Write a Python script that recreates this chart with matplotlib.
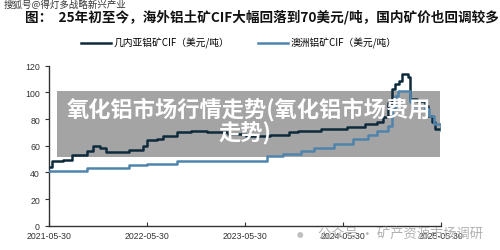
import numpy as np
import pandas as pd
import matplotlib
matplotlib.use("Agg")
import matplotlib.pyplot as plt
from matplotlib.patches import Rectangle

plt.rcParams['font.family'] = ['Liberation Sans', 'Noto Sans CJK SC', 'DejaVu Sans']
cjk = ['Noto Sans CJK SC', 'DejaVu Sans']

# Guinea bauxite CIF (USD/t), step values
guinea_dates = ["2021-05-30", "2021-06-10", "2021-07-20", "2021-08-25", "2021-10-20",
                "2021-11-10", "2021-12-05", "2021-12-30", "2022-03-25", "2022-05-15",
                "2022-05-30", "2022-07-05", "2022-07-30", "2022-09-20", "2022-11-10",
                "2023-01-10", "2023-03-30", "2023-06-05", "2023-08-30", "2023-11-10",
                "2023-12-15", "2024-03-10", "2024-06-15", "2024-08-20", "2024-10-05",
                "2024-10-25", "2024-11-12", "2024-11-30", "2024-12-10", "2024-12-25",
                "2025-01-05", "2025-01-28", "2025-02-02", "2025-03-01", "2025-03-30",
                "2025-04-12", "2025-04-28", "2025-05-08", "2025-05-30"]
guinea_vals = [43.8, 48.3, 49.5, 53.3, 56,
               59.5, 58.5, 55, 57, 60,
               64, 65, 67.5, 70.5, 71.3,
               70, 68.8, 67, 68, 70,
               71, 72.5, 74, 76, 78,
               81.5, 92, 102.5, 106, 108.8,
               113.8, 111.5, 95, 93.8, 90,
               82.5, 77.8, 72.5, 73]

# Australia bauxite CIF (USD/t)
aus_dates = ["2021-05-30", "2021-10-20", "2022-03-25", "2022-05-30", "2022-09-20",
             "2023-08-20", "2023-10-20", "2023-12-25", "2024-02-10", "2024-04-25",
             "2024-07-05", "2024-09-01", "2024-10-05", "2024-11-12", "2024-11-30",
             "2024-12-10", "2024-12-20", "2025-02-05", "2025-02-12", "2025-03-30",
             "2025-04-15", "2025-05-05", "2025-05-30"]
aus_vals = [40.8, 43.3, 45.5, 46.5, 48.3,
            52.5, 54, 56, 58.5, 61.3,
            65, 68, 71, 75, 88,
            97, 101, 93, 90, 87.5,
            82, 76, 72]

xtick_dates = ["2021-05-30", "2022-05-30", "2023-05-30", "2024-05-30", "2025-05-30"]
yticks = [0, 20, 40, 60, 80, 100, 120]

fig = plt.figure(figsize=(5, 2.51), dpi=100)
ax = fig.add_axes([0.098, 0.097, 0.784, 0.637])

ax.plot(pd.to_datetime(guinea_dates), guinea_vals, drawstyle='steps-post',
        color='#0e2a3c', lw=1.8, zorder=3, label='几内亚铝矿CIF（美元/吨）')
ax.plot(pd.to_datetime(aus_dates), aus_vals, drawstyle='steps-post',
        color='#4f84ad', lw=1.8, zorder=3, label='澳洲铝矿CIF（美元/吨）')

ax.set_xlim(pd.Timestamp("2021-05-30"), pd.Timestamp("2025-05-30"))
ax.set_ylim(0, 120)
ax.set_yticks(yticks)
ax.set_xticks(pd.to_datetime(xtick_dates))
ax.set_xticklabels(xtick_dates)
ax.tick_params(axis='y', direction='out', length=3, labelsize=6.3, colors='#333333')
ax.tick_params(axis='x', direction='in', length=3, labelsize=6.3, colors='#333333')
for s in ['top', 'right']:
    ax.spines[s].set_visible(False)
for s in ['left', 'bottom']:
    ax.spines[s].set_color('#333333')
    ax.spines[s].set_linewidth(1.0)

fig.legend(loc='center', bbox_to_anchor=(0.478, 0.825), ncol=2, frameon=False,
           handlelength=3.0, columnspacing=3.0, handletextpad=0.3,
           prop={'family': cjk, 'size': 7.0})

# grey overlay banner
ax.add_patch(Rectangle((0.114, 0.369), 0.766, 0.264, transform=fig.transFigure,
                       facecolor='#9c9c9c', edgecolor='none', alpha=0.92, zorder=2))
fig.text(0.498, 0.562, '氧化铝市场行情走势(氧化铝市场费用', color='white', fontsize=16,
         fontweight='bold', ha='center', va='center', family=cjk, zorder=5)
fig.text(0.49, 0.466, '走势)', color='white', fontsize=16, fontweight='bold',
         ha='center', va='center', family=cjk, zorder=5)

# title and watermarks
fig.text(0.05, 0.932, '图：  25年初至今，海外铝土矿CIF大幅回落到70美元/吨，国内矿价也回调较多',
         fontsize=9.8, fontweight='bold', ha='left', va='center', color='#111111', family=cjk)
fig.text(0.008, 0.998, '搜狐号@得灯多战略新兴产业', fontsize=6.8, ha='left', va='top',
         color='#333333', family=cjk)
fig.text(0.636, 0.063, '公众号 · 矿产资源市场调研', fontsize=9.5, ha='left', va='center',
         color='#b0b0b0', family=cjk, zorder=6)
fig.text(0.6, 0.063, '●', fontsize=10, ha='center', va='center', color='#c0c0c0')

fig.savefig('out.png', dpi=100)
